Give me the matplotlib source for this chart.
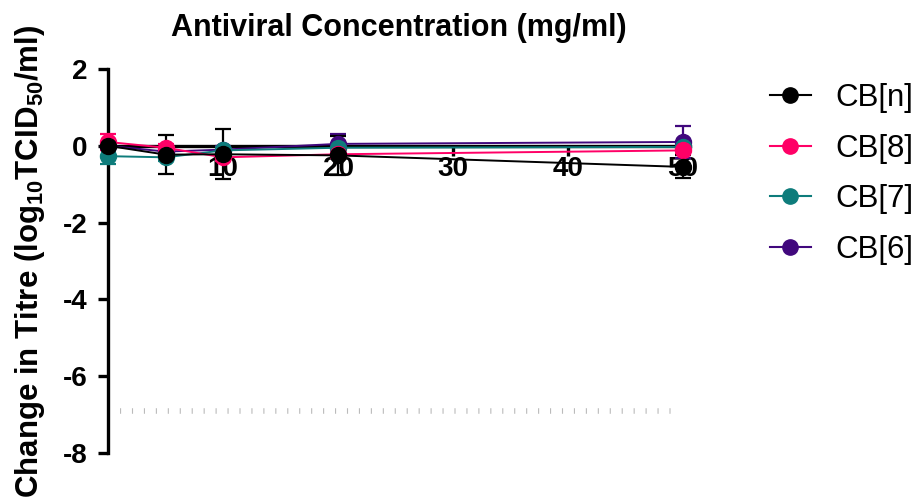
import matplotlib
matplotlib.use("Agg")
import matplotlib.pyplot as plt
from matplotlib.lines import Line2D

plt.rcParams['font.family'] = ['Liberation Sans', 'DejaVu Sans']
plt.rcParams['mathtext.fontset'] = 'custom'
plt.rcParams['mathtext.rm'] = 'Liberation Sans:bold'
plt.rcParams['mathtext.bf'] = 'Liberation Sans:bold'
plt.rcParams['mathtext.it'] = 'Liberation Sans:bold'

conc = [0, 5, 10, 20, 50]
series_names = ["CB[n]", "CB[8]", "CB[7]", "CB[6]"]
colors = ["#000000", "#FF0066", "#0E7C7B", "#41087D"]
means = {
    "CB[n]": [0.0, -0.23, -0.22, -0.25, -0.55],
    "CB[8]": [0.10, -0.05, -0.30, -0.22, -0.12],
    "CB[7]": [-0.27, -0.30, -0.12, -0.05, -0.03],
    "CB[6]": [0.0, -0.15, -0.10, 0.05, 0.10],
}
errs = {
    "CB[n]": [0.05, 0.50, 0.65, 0.50, 0.30],
    "CB[8]": [0.22, 0.10, 0.10, 0.10, 0.10],
    "CB[7]": [0.20, 0.10, 0.10, 0.10, 0.10],
    "CB[6]": [0.10, 0.10, 0.10, 0.25, 0.42],
}
detection_limit = -6.9
dl_x = [1, 49.5]
yticks = [2, 0, -2, -4, -6, -8]
xticks = [10, 20, 30, 40, 50]

fig = plt.figure(figsize=(9.16, 4.97), dpi=100)
ax = fig.add_axes([108/916, (497-453)/497, (690-108)/916, (453-69)/497])

for name, c in reversed(list(zip(series_names, colors))):
    ax.errorbar(conc, means[name], yerr=errs[name], color=c, marker='o',
                markersize=11.5, linewidth=1.4, elinewidth=1.6, capsize=6,
                capthick=1.6, clip_on=False, zorder=3)

ax.plot(dl_x, [detection_limit, detection_limit], color='#BBBBBB',
        linestyle=(0, (0.2, 1.95)), linewidth=4, dash_capstyle='butt', zorder=1)

ax.set_xlim(0, 50.6)
ax.set_ylim(-8, 2)
ax.spines['top'].set_visible(False)
ax.spines['right'].set_visible(False)
ax.spines['bottom'].set_position(('data', 0))
for s in ['left', 'bottom']:
    ax.spines[s].set_linewidth(2.4)
ax.set_xticks(xticks)
ax.set_yticks(yticks)
ax.set_xticklabels([str(v) for v in xticks], fontsize=20, fontweight='bold')
ax.set_yticklabels([str(v) for v in yticks], fontsize=20, fontweight='bold')
ax.tick_params(axis='both', width=2.4, length=7, direction='out')
ax.tick_params(axis='x', pad=0)
ax.tick_params(axis='y', pad=8)
ax.set_ylabel(r"Change in Titre (log$_{10}$TCID$_{50}$/ml)",
              fontsize=22.5, fontweight='bold')
ax.yaxis.set_label_coords(-0.105, 0.5)
ax.set_title("Antiviral Concentration (mg/ml)", fontsize=22, fontweight='bold', pad=24)

handles = [Line2D([0], [0], color=c, marker='o', markersize=11, linewidth=1.5)
           for c in colors]
fig.legend(handles, series_names, loc='upper left', bbox_to_anchor=(770/916, 1 - 83/497),
           frameon=False, fontsize=22.5, handlelength=1.3, labelspacing=0.66,
           handletextpad=0.8, borderpad=0, borderaxespad=0)

fig.savefig("out.png", dpi=100)
